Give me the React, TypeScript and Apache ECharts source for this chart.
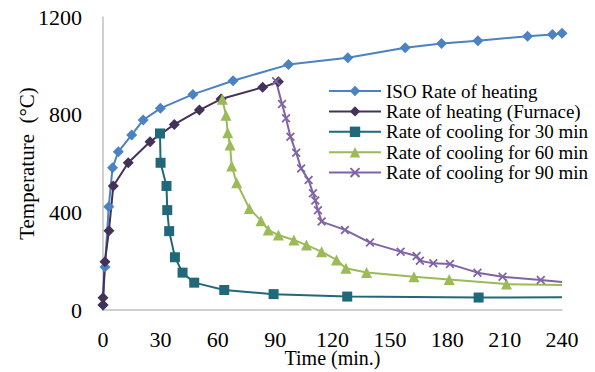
import React, { useEffect, useRef } from "react";
import * as echarts from "echarts";

const isoTime = [0, 1, 3, 5, 8, 15, 21, 30, 47, 68, 97, 128, 158, 177, 196, 222, 235, 240];
const isoTemp = [20, 176, 423, 583, 648, 717, 778, 826, 883, 939, 1005, 1033, 1074, 1091, 1103, 1121, 1128, 1133];

const furnaceTime = [0, 0, 1, 3.1, 5.4, 13.2, 24.6, 37.3, 50.4, 61.7, 83.5, 91.7];
const furnaceTemp = [20, 50, 198, 325, 508, 603, 689, 760, 819, 864, 912, 935];

const cool30Time = [29.8, 30.1, 33.2, 33.6, 34.6, 37.6, 41.6, 47.7, 63.4, 89.2, 127.7, 196.4, 240];
const cool30Temp = [723, 603, 508, 409, 323, 216, 153, 112, 82, 65, 55, 51, 52];

const cool60Time = [62.4, 64.3, 65.2, 66.4, 67.3, 69.9, 76.5, 82.6, 86.4, 91.7, 99.8, 106.4, 114.3, 122.1, 127, 137.8, 162.6, 181, 211, 240];
const cool60Temp = [863, 798, 726, 676, 590, 521, 416, 366, 328, 307, 287, 266, 239, 205, 171, 154, 136, 125, 106, 102];

const cool90Time = [90.5, 93.6, 95.7, 98, 101, 103.6, 107.5, 109.8, 111, 112.4, 114.3, 126.5, 139.6, 155.6, 164, 165.7, 172.7, 181.4, 195.8, 208.9, 228.9, 240];
const cool90Temp = [937, 844, 785, 710, 644, 580, 532, 478, 448, 409, 362, 328, 276, 239, 221, 202, 191, 188, 153, 136, 123, 115];

const seriesNames = [
  "ISO Rate of heating",
  "Rate of heating (Furnace)",
  "Rate of cooling for 30 min",
  "Rate of cooling for 60 min",
  "Rate of cooling for 90 min",
];

const xTicks = { min: 0, max: 240, interval: 30 };
const yTicks = { min: 0, max: 1200, interval: 400 };

const FONT = "Times New Roman, Liberation Serif, DejaVu Serif, serif";
const CROSS =
  "path://M0,1.4 L1.4,0 L5,3.6 L8.6,0 L10,1.4 L6.4,5 L10,8.6 L8.6,10 L5,6.4 L1.4,10 L0,8.6 L3.6,5 Z";

function pairs(t: number[], v: number[], hideLast = false) {
  return t.map((x, i) => {
    if (hideLast && i === t.length - 1) {
      return { value: [x, v[i]], symbol: "none" };
    }
    return { value: [x, v[i]] };
  });
}

export default function App() {
  const ref = useRef<HTMLDivElement>(null);

  useEffect(() => {
    if (!ref.current) return;
    const chart = echarts.init(ref.current, null, {
      renderer: "svg",
      width: 595,
      height: 372,
    });
    const mk = (
      name: string,
      data: any[],
      color: string,
      symbol: string,
      size: number
    ) => ({
      name,
      type: "line",
      data,
      symbol,
      symbolSize: size,
      showAllSymbol: true,
      lineStyle: { color, width: 2 },
      itemStyle: { color },
      emphasis: { disabled: true },
    });
    chart.setOption({
      animation: false,
      backgroundColor: "#ffffff",
      textStyle: { fontFamily: FONT },
      grid: {
        left: 103,
        top: 17,
        right: 33,
        bottom: 62,
        containLabel: false,
        outerBoundsMode: "none",
      },
      legend: {
        orient: "vertical",
        left: 328,
        top: 81,
        padding: 0,
        itemWidth: 52,
        itemHeight: 13,
        itemGap: 0.4,
        textStyle: {
          fontFamily: FONT,
          fontSize: 19,
          color: "#000",
          lineHeight: 20,
        },
        data: seriesNames,
      },
      xAxis: {
        type: "value",
        min: xTicks.min,
        max: xTicks.max,
        interval: xTicks.interval,
        name: "Time (min.)",
        nameLocation: "middle",
        nameGap: 39,
        nameMoveOverlap: false,
        nameTextStyle: { fontFamily: FONT, fontSize: 20, color: "#000", lineHeight: 18 },
        axisLine: { lineStyle: { color: "#c0c0c0", width: 1.5 } },
        axisTick: { show: false },
        splitLine: { show: false },
        axisLabel: {
          fontFamily: FONT,
          fontSize: 22,
          lineHeight: 20,
          color: "#000",
          margin: 19,
          formatter: (v: number) => String(v),
        },
      },
      yAxis: {
        type: "value",
        min: yTicks.min,
        max: yTicks.max,
        interval: yTicks.interval,
        name: "Temperature  (°C)",
        nameLocation: "middle",
        nameGap: 66,
        nameMoveOverlap: false,
        nameTextStyle: { fontFamily: FONT, fontSize: 21, color: "#000" },
        axisLine: { show: true, lineStyle: { color: "#c0c0c0", width: 1.5 } },
        axisTick: { show: false },
        splitLine: { show: false },
        axisLabel: { fontFamily: FONT, fontSize: 22, color: "#000", margin: 21, formatter: (v: number) => String(v) },
      },
      series: [
        mk(seriesNames[0], pairs(isoTime, isoTemp), "#4a82c4", "diamond", 11),
        mk(seriesNames[1], pairs(furnaceTime, furnaceTemp), "#433258", "diamond", 11),
        mk(seriesNames[2], pairs(cool30Time, cool30Temp, true), "#20687a", "rect", 10),
        mk(seriesNames[3], pairs(cool60Time, cool60Temp, true), "#9bbb59", "triangle", 11),
        mk(seriesNames[4], pairs(cool90Time, cool90Temp, true), "#8063a6", CROSS, 9),
      ],
    });
    return () => chart.dispose();
  }, []);

  return (
    <div
      ref={ref}
      style={{ position: "absolute", left: 0, top: 0, width: 595, height: 372 }}
    />
  );
}
